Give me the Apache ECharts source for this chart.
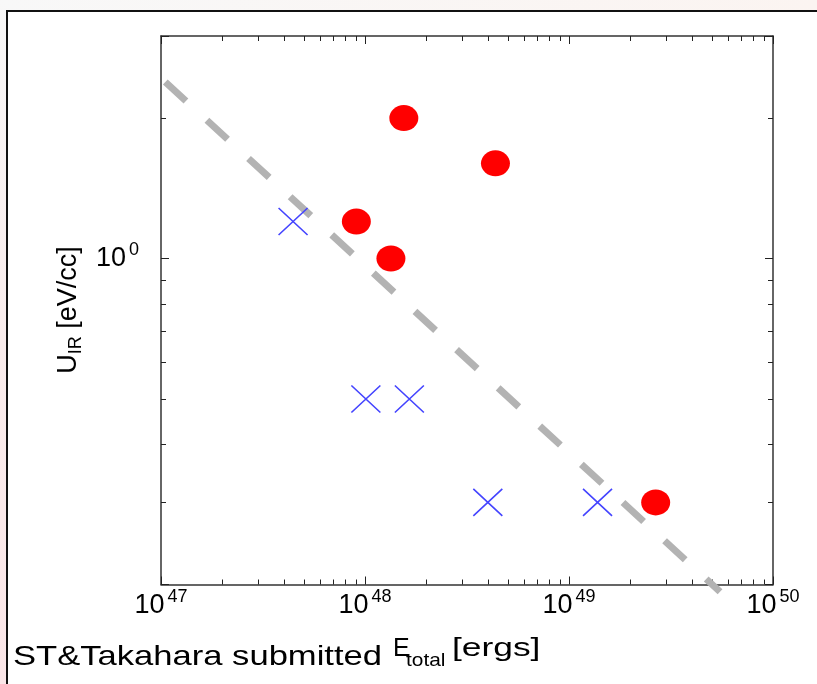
<!DOCTYPE html>
<html>
<head>
<meta charset="utf-8">
<script src="https://cdn.jsdelivr.net/npm/echarts@6/dist/echarts.min.js"></script>
<style>
  html, body { margin: 0; padding: 0; background: #ffffff; }
  #chart { width: 817px; height: 684px; }
</style>
</head>
<body>
<div id="chart"></div>
<script>
// IR energy density against total energy, two source groups
const circleE = [1.55e48, 4.36e48, 9.07e47, 1.34e48, 2.66e49];
const circleU = [2.0, 1.6, 1.2, 1.0, 0.3];
const crossE = [4.44e47, 1.01e48, 1.65e48, 4.0e48, 1.38e49];
const crossU = [1.2, 0.5, 0.5, 0.3, 0.3];

// Dashed reference trend (end points)
const trendE = [1.05e47, 5.5e49];
const trendU = [2.39, 0.193];

// Axis ranges and minor tick positions
const xRange = [1e47, 1e50];
const yRange = [0.2, 3];
const xMinorTicks = [
  2e47, 3e47, 4e47, 5e47, 6e47, 7e47, 8e47, 9e47,
  2e48, 3e48, 4e48, 5e48, 6e48, 7e48, 8e48, 9e48,
  2e49, 3e49, 4e49, 5e49, 6e49, 7e49, 8e49, 9e49
];
const yMinorTicks = [0.3, 0.4, 0.5, 0.6, 0.7, 0.8, 0.9, 2];

const FONT = '"Liberation Sans", Arial, Helvetica, sans-serif';
const AXIS_COLOR = '#333333';

const chart = echarts.init(document.getElementById('chart'), null, { renderer: 'canvas' });

function powLabel(v) {
  const e = Math.round(Math.log10(v));
  return '{b|10}{s|' + e + '}';
}

// base "10" with a raised exponent
const labelRich = {
  b: { fontSize: 27, fontFamily: FONT, color: '#000', lineHeight: 27 },
  s: { fontSize: 18, fontFamily: FONT, color: '#000', lineHeight: 18, padding: [0, 0, 17, 3] }
};

// Short inward minor ticks on both sides of the plot box
function minorTickItem(kind) {
  return function (params, api) {
    const cs = params.coordSys;
    const p = api.coord([api.value(0), api.value(1)]);
    const style = { stroke: '#222', lineWidth: 1 };
    const len = 5;
    if (kind === 'x') {
      const x = Math.round(p[0]) + 0.5;
      const b = cs.y + cs.height, t = cs.y;
      return {
        type: 'group',
        children: [
          { type: 'line', shape: { x1: x, y1: b, x2: x, y2: b - len }, style: style },
          { type: 'line', shape: { x1: x, y1: t, x2: x, y2: t + len }, style: style }
        ]
      };
    }
    const y = Math.round(p[1]) + 0.5;
    const l = cs.x, r = cs.x + cs.width;
    return {
      type: 'group',
      children: [
        { type: 'line', shape: { x1: l, y1: y, x2: l + len, y2: y }, style: style },
        { type: 'line', shape: { x1: r, y1: y, x2: r - len, y2: y }, style: style }
      ]
    };
  };
}

const axisCommon = {
  type: 'log',
  logBase: 10,
  axisLine: { show: true, lineStyle: { color: AXIS_COLOR, width: 1.5 } },
  axisTick: { show: true, inside: true, length: 8, lineStyle: { color: '#222', width: 1 } },
  splitLine: { show: false },
  minorTick: { show: false }
};

const option = {
  animation: false,
  backgroundColor: '#ffffff',
  grid: { left: 161, right: 44, top: 36, bottom: 99.5, containLabel: false },
  xAxis: [
    Object.assign({}, axisCommon, {
      position: 'bottom', min: xRange[0], max: xRange[1],
      axisLabel: { margin: 8, formatter: powLabel, rich: labelRich }
    }),
    Object.assign({}, axisCommon, {
      position: 'top', min: xRange[0], max: xRange[1],
      axisLabel: { show: false }
    })
  ],
  yAxis: [
    Object.assign({}, axisCommon, {
      position: 'left', min: yRange[0], max: yRange[1],
      axisLabel: {
        margin: 22,
        formatter: function (v) {
          return Math.abs(Math.log10(v)) < 1e-6 ? powLabel(v) : '';
        },
        rich: labelRich
      }
    }),
    Object.assign({}, axisCommon, {
      position: 'right', min: yRange[0], max: yRange[1],
      axisLabel: { show: false }
    })
  ],
  graphic: [
    // window chrome around the figure
    {
      type: 'rect', silent: true, z: -10,
      shape: { x: 0, y: 0, width: 817, height: 11 },
      style: { fill: new echarts.graphic.LinearGradient(0, 0, 1, 0, [
        { offset: 0, color: '#f8f8f8' }, { offset: 1, color: '#fbf4f1' }]) }
    },
    {
      type: 'rect', silent: true, z: -10,
      shape: { x: 0, y: 0, width: 7, height: 684 },
      style: { fill: new echarts.graphic.LinearGradient(0, 0, 0, 1, [
        { offset: 0, color: '#f8f8f8' }, { offset: 0.5, color: '#f9ecec' }, { offset: 1, color: '#fbe6e8' }]) }
    },
    {
      type: 'polyline', silent: true, z: -5,
      shape: { points: [[7, 684], [7, 11], [817, 11]] },
      style: { stroke: '#111111', lineWidth: 2, fill: null }
    },
    // y axis title
    {
      type: 'text', silent: true,
      x: 69, y: 310, rotation: Math.PI / 2,
      style: {
        text: '{u|U}{ir|IR}{t| [eV/cc]}',
        align: 'center', verticalAlign: 'middle',
        rich: {
          u: { fontSize: 27, fontFamily: FONT, fill: '#000', lineHeight: 32 },
          ir: { fontSize: 18, fontFamily: FONT, fill: '#000', verticalAlign: 'bottom', lineHeight: 18 },
          t: { fontSize: 27, fontFamily: FONT, fill: '#000', lineHeight: 32 }
        }
      }
    },
    // x axis title with submission note
    {
      type: 'text', silent: true, x: 13, y: 657, scaleX: 1.235,
      style: { text: 'ST&Takahara submitted', fontSize: 28, fontFamily: FONT, fill: '#000', verticalAlign: 'middle' }
    },
    {
      type: 'text', silent: true, x: 393, y: 649,
      style: { text: 'E', fontSize: 25, fontFamily: FONT, fill: '#000', verticalAlign: 'middle' }
    },
    {
      type: 'text', silent: true, x: 406, y: 661, scaleX: 1.1,
      style: { text: 'total', fontSize: 19, fontFamily: FONT, fill: '#000', verticalAlign: 'middle' }
    },
    {
      type: 'text', silent: true, x: 452, y: 649, scaleX: 1.36,
      style: { text: '[ergs]', fontSize: 26, fontFamily: FONT, fill: '#000', verticalAlign: 'middle' }
    }
  ],
  series: [
    {
      type: 'custom', name: 'xMinor', silent: true, clip: false, z: 1,
      renderItem: minorTickItem('x'),
      data: xMinorTicks.map(function (v) { return [v, 1]; })
    },
    {
      type: 'custom', name: 'yMinor', silent: true, clip: false, z: 1,
      renderItem: minorTickItem('y'),
      data: yMinorTicks.map(function (v) { return [1e48, v]; })
    },
    {
      type: 'line', name: 'trend', silent: true, clip: false, z: 2,
      symbol: 'none',
      lineStyle: { color: '#b3b3b3', width: 7, type: [28, 28.5], cap: 'butt', opacity: 1 },
      data: trendE.map(function (e, i) { return [e, trendU[i]]; })
    },
    {
      type: 'scatter', name: 'cross', silent: true, z: 3,
      symbol: 'path://M0,0L10,10M10,0L0,10',
      symbolSize: [29, 27],
      itemStyle: { color: 'none', borderColor: '#4444ff', borderWidth: 1.5, opacity: 1 },
      data: crossE.map(function (e, i) { return [e, crossU[i]]; })
    },
    {
      type: 'scatter', name: 'circle', silent: true, z: 4,
      symbol: 'circle',
      symbolSize: [29, 26],
      itemStyle: { color: '#ff0000', opacity: 1 },
      data: circleE.map(function (e, i) { return [e, circleU[i]]; })
    }
  ]
};

chart.setOption(option);
</script>
</body>
</html>
